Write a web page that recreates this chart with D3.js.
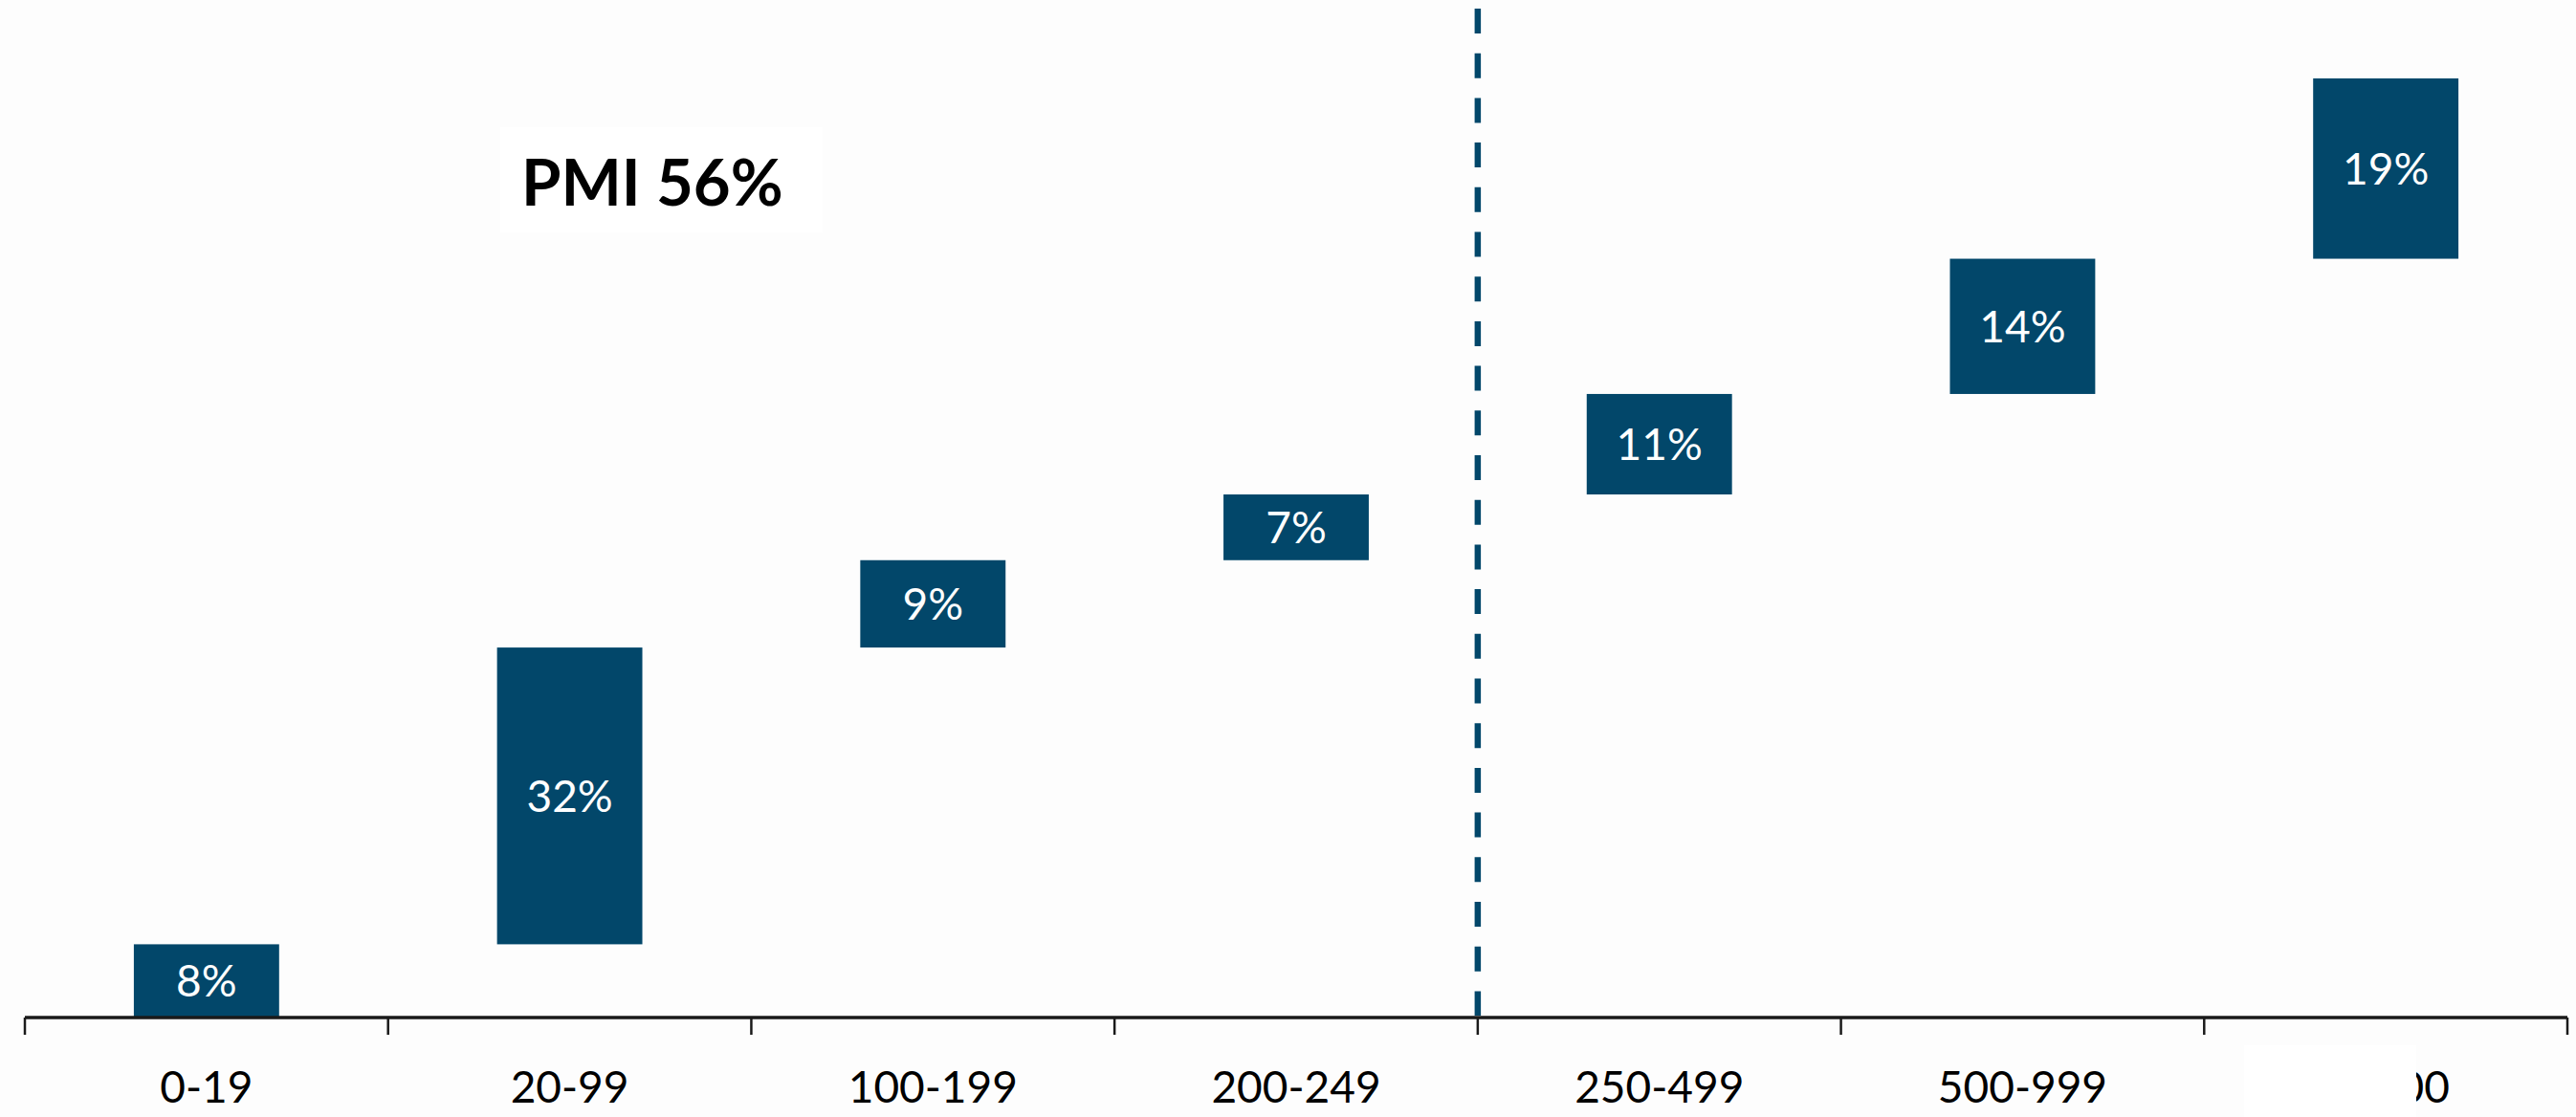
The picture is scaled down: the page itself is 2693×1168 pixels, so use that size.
<!DOCTYPE html>
<html>
<head>
<meta charset="utf-8">
<script src="https://cdn.jsdelivr.net/npm/d3@7"></script>
<style>
  body { margin: 0; background: #fdfdfd; }
  svg { display: block; }
</style>
</head>
<body>
<div id="chart"></div>
<script>
var width = 2693,
    height = 1168,
    margin = {top: 82, left: 26, right: 9, bottom: 102};

// company size bands and their share of the total (bar extents)
var categories = ["0-19", "20-99", "100-199", "200-249", "250-499", "500-999", "≥1000"];
var shares = [7.8, 31.6, 9.3, 7.0, 10.7, 14.4, 19.2];
var pmiLabel = "PMI 56%";
var splitAfter = "200-249";

var barColor = "#02476a";
var pct = d3.format(".0f");

var svg = d3.select("#chart").append("svg")
  .attr("width", width)
  .attr("height", height);

var axisY = height - margin.bottom - 2;

// band edges for ticks, inner band for bars
var x = d3.scaleBand()
  .domain(categories)
  .range([margin.left, width - margin.right])
  .padding(0);

var xBar = d3.scaleBand()
  .domain(categories)
  .range([margin.left, width - margin.right])
  .paddingInner(0.6)
  .paddingOuter(0.3);

var y = d3.scaleLinear()
  .domain([0, 100])
  .range([axisY, margin.top]);

// floating bars: each starts where the previous one ended
var ends = d3.cumsum(shares);
var data = categories.map(function(c, i) {
  return {cat: c, value: shares[i], start: ends[i] - shares[i], end: ends[i]};
});

// dashed split line
var splitX = x(splitAfter) + x.bandwidth();
svg.append("line")
  .attr("x1", splitX).attr("x2", splitX)
  .attr("y1", 9).attr("y2", axisY - 2)
  .style("stroke", barColor)
  .style("stroke-width", 6.5)
  .style("stroke-dasharray", "26 20.7");

svg.selectAll("rect.bar")
  .data(data)
  .enter()
  .append("rect")
  .attr("class", "bar")
  .attr("x", function(d) { return xBar(d.cat); })
  .attr("width", xBar.bandwidth())
  .attr("y", function(d) { return y(d.end); })
  .attr("height", function(d) { return y(d.start) - y(d.end); })
  .style("fill", barColor);

svg.selectAll("text.val")
  .data(data)
  .enter()
  .append("text")
  .attr("class", "val")
  .attr("x", function(d) { return xBar(d.cat) + xBar.bandwidth() / 2; })
  .attr("y", function(d) { return (y(d.start) + y(d.end)) / 2; })
  .attr("dy", "0.36em")
  .style("text-anchor", "middle")
  .style("font", "46px Lato, 'Noto Sans', sans-serif")
  .style("fill", "#ffffff")
  .text(function(d) { return pct(d.value) + "%"; });

// x axis
var axis = svg.append("g")
  .attr("transform", "translate(0," + axisY + ")")
  .call(d3.axisBottom(x).tickSize(0).tickPadding(56));

axis.select(".domain")
  .attr("d", "M" + margin.left + ",0H" + (width - margin.right))
  .style("stroke", "#1a1a1a")
  .style("stroke-width", 3.5);

axis.selectAll(".tick text")
  .style("font", "46px Lato, 'Noto Sans', sans-serif")
  .style("fill", "#000");

var edges = categories.map(function(c) { return x(c); }).concat([width - margin.right]);
axis.selectAll("line.edge")
  .data(edges)
  .enter()
  .append("line")
  .attr("class", "edge")
  .attr("x1", function(d) { return d; })
  .attr("x2", function(d) { return d; })
  .attr("y1", 0)
  .attr("y2", 18)
  .style("stroke", "#1a1a1a")
  .style("stroke-width", 2.5);

// PMI callout
svg.append("rect")
  .attr("x", 523).attr("y", 133)
  .attr("width", 337).attr("height", 110)
  .style("fill", "#ffffff");

svg.append("text")
  .attr("x", 545)
  .attr("y", 215)
  .style("font", "bold 67px Lato, 'Noto Sans', sans-serif")
  .style("fill", "#000")
  .text(pmiLabel);

// white patch over the last axis label
svg.append("rect")
  .attr("x", 2346).attr("y", 1093)
  .attr("width", 180).attr("height", 75)
  .style("fill", "#ffffff");
</script>
</body>
</html>
